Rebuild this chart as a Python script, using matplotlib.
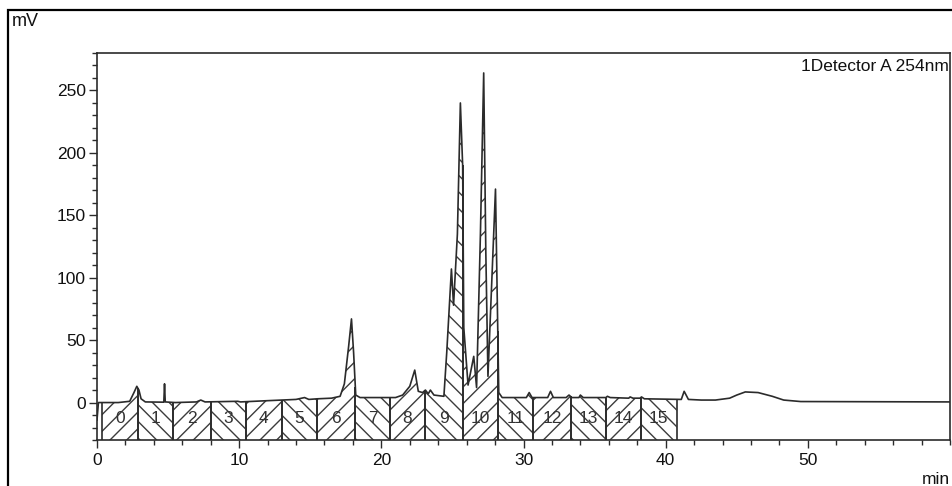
import numpy as np
import matplotlib
matplotlib.use("Agg")
import matplotlib.pyplot as plt
from matplotlib.patches import Rectangle

plt.rcParams["font.family"] = ["Liberation Sans", "DejaVu Sans"]
plt.rcParams["hatch.linewidth"] = 1.0

# detector trace (min, mV)
time_min = [0.0, 0.1, 1.5, 2.3, 2.6, 2.8, 2.95, 3.1, 3.4, 4.7, 4.75, 4.8, 5.5,
            7.0, 7.3, 7.6, 9.9, 10.1, 12.0, 14.0, 14.6, 14.9, 15.5, 16.5,
            17.1, 17.4, 17.7, 17.9, 18.05, 18.2, 18.5, 20.0, 21.0, 21.5, 22.0,
            22.35, 22.6, 22.9, 23.1, 23.3, 23.45, 23.7, 24.4, 24.6, 24.93,
            25.08, 25.35, 25.56, 25.72, 25.8, 26.1, 26.5, 26.7, 26.97, 27.2,
            27.35, 27.5, 28.03, 28.26, 28.5, 30.2, 30.4, 30.6, 31.7, 31.9,
            32.1, 33.0, 33.2, 33.4, 33.9, 34.0, 34.2, 35.8, 35.9, 36.1, 37.4,
            37.5, 37.7, 38.2, 38.3, 38.5, 41.1, 41.3, 41.6, 42.5, 43.5, 44.5,
            45.0, 45.6, 46.5, 47.5, 48.3, 49.5, 60.0]
signal_mv = [-14, 0, 0, 1, 8, 13, 10, 3, 0.5, 0.3, 15, 0.5, 0,
             0.5, 2, 0.5, 1, 0.5, 1.5, 2.5, 4, 2.5, 3, 3.5,
             5, 15, 45, 67, 40, 6, 4, 4, 4, 6, 13,
             26, 9, 8, 10, 7, 10, 6, 5, 40, 107,
             78, 135, 240, 190, 60, 14, 37, 12, 135, 264,
             120, 21, 171, 8, 4, 4, 8, 4, 4, 9,
             4, 4, 6, 4, 4, 6, 4, 4, 5, 4, 3.5,
             4.5, 3.5, 3.5, 4.5, 3, 2.5, 9, 2.5, 2, 2, 3.5,
             6, 8.5, 8, 5, 2, 0.8, 0.5]

# integration windows and their numbers
seg_edges = [0.35, 2.87, 5.33, 8.0, 10.47, 13.0, 15.47, 18.17, 20.58, 23.1,
             25.72, 28.19, 30.68, 33.31, 35.77, 38.24, 40.77]
seg_labels = ["0", "1", "2", "3", "4", "5", "6", "7", "8", "9", "10",
              "11", "12", "13", "14", "15"]

y_lo, y_hi = -30, 280
ink = "#2b2b2b"

fig = plt.figure(figsize=(9.52, 4.86), dpi=100)
ax = fig.add_axes([97 / 952, 46 / 486, 853 / 952, 387 / 486])

for i, lab in enumerate(seg_labels):
    a, b = seg_edges[i], seg_edges[i + 1]
    xs = [a] + [t for t in time_min if a < t < b] + [b]
    ys = np.interp(xs, time_min, signal_mv)
    ax.fill_between(xs, y_lo, ys, facecolor="white", edgecolor="#3c3c3c",
                    hatch="//" if i % 2 == 0 else "\\\\", linewidth=0)
    ax.vlines([a, b], y_lo, [ys[0], ys[-1]], color=ink, lw=1.2)
    ax.text((a + b) / 2, -13, lab, ha="center", va="center",
            fontsize=12.5, color="#333333")

ax.plot(time_min, signal_mv, color=ink, lw=1.2)

ax.set_xlim(0, 60)
ax.set_ylim(y_lo, y_hi)
ax.set_xticks([0, 10, 20, 30, 40, 50])
ax.set_xticks(np.arange(0, 61, 2), minor=True)
ax.set_yticks([0, 50, 100, 150, 200, 250])
ax.set_yticks(np.arange(-30, 281, 10), minor=True)
ax.tick_params(axis="both", which="major", direction="out", length=6,
               width=1, color=ink, labelsize=12.5, labelcolor="#111111")
ax.tick_params(axis="both", which="minor", direction="out", length=3.5,
               width=1, color=ink)
ax.tick_params(axis="x", pad=3)
ax.tick_params(axis="y", pad=2)
for sp in ax.spines.values():
    sp.set_color(ink)
    sp.set_linewidth(1.2)

ax.text(0.999, 0.985, "1Detector A 254nm", transform=ax.transAxes,
        ha="right", va="top", fontsize=12.5, color="#111111")
fig.text(12 / 952, 1 - 13 / 486, "mV", ha="left", va="top",
         fontsize=13, color="#111111")
fig.text(950 / 952, 1 - 472 / 486, "min", ha="right", va="top",
         fontsize=12.5, color="#111111")

# outer frame
fig.patches.append(Rectangle((8 / 952, -0.05), 1.2, 1 - 10 / 486 + 0.05,
                             transform=fig.transFigure, fill=False,
                             edgecolor="black", linewidth=1.6))

fig.savefig("out.png", dpi=100)
